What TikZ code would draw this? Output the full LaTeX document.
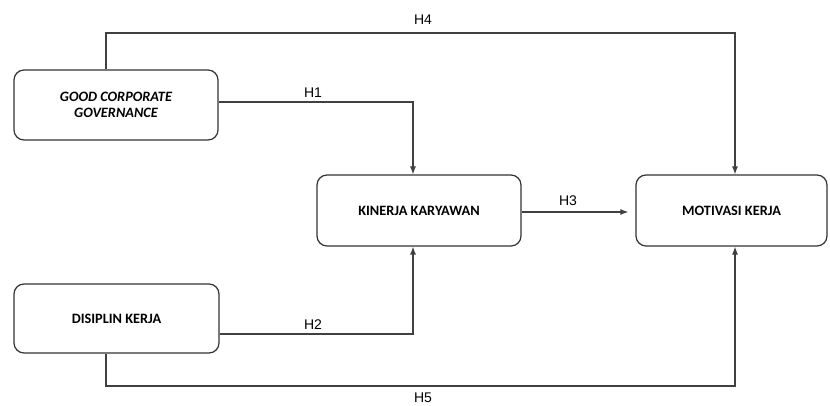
\documentclass[tikz,border=0pt]{standalone}
\usepackage{fontspec}
\setmainfont{Carlito}
\newfontfamily\labfont{Liberation Sans}
\usetikzlibrary{arrows.meta}
\begin{document}
\begin{tikzpicture}[x=1pt,y=-1pt,
  box/.style={draw=black!80, line width=1.2pt, rounded corners=10pt, fill=white, inner sep=0pt,
    align=center, font=\fontsize{14.3}{16}\selectfont\bfseries},
  conn/.style={draw=black!75, line width=1.1pt},
  arr/.style={conn, -{Latex[length=8pt,width=6pt]}},
  hlab/.style={font=\labfont\fontsize{14}{15}\selectfont, inner sep=0pt}]
\useasboundingbox (0,0) rectangle (830,405);
\node[box, minimum width=204pt, minimum height=70pt] (gcg) at (116,105) {\itshape GOOD CORPORATE\\\itshape GOVERNANCE};
\node[box, minimum width=205pt, minimum height=69pt] (dk) at (116.5,318.5) {DISIPLIN KERJA};
\node[box, minimum width=204pt, minimum height=71pt] (kk) at (419,210.5) {KINERJA KARYAWAN};
\node[box, minimum width=191pt, minimum height=71pt] (mk) at (731.5,210.5) {MOTIVASI KERJA};
\coordinate (c4a) at (106,33);
\coordinate (c4b) at (735,33);
\coordinate (c1) at (413,102);
\coordinate (c2) at (413,334);
\coordinate (c5a) at (106,386);
\coordinate (c5b) at (735,386);
% H4
\draw[arr] (gcg.north -| c4a) -- (c4a) -- (c4b) -- (mk.north -| c4b);
% H1
\draw[arr] (gcg.east |- c1) -- (c1) -- (kk.north -| c1);
% H2
\draw[arr] (dk.east |- c2) -- (c2) -- (kk.south -| c2);
% H3
\draw[arr, shorten >=7pt] (kk.east |- 0,212) -- (mk.west |- 0,212);
% H5
\draw[arr] (dk.south -| c5a) -- (c5a) -- (c5b) -- (mk.south -| c5b);
\node[hlab] (h4) at (423,20) {H4};
\node[hlab] (h1) at (313,93) {H1};
\node[hlab] (h3) at (568,201) {H3};
\node[hlab] (h2) at (313,325) {H2};
\node[hlab] (h5) at (423,398) {H5};
\end{tikzpicture}
\end{document}
